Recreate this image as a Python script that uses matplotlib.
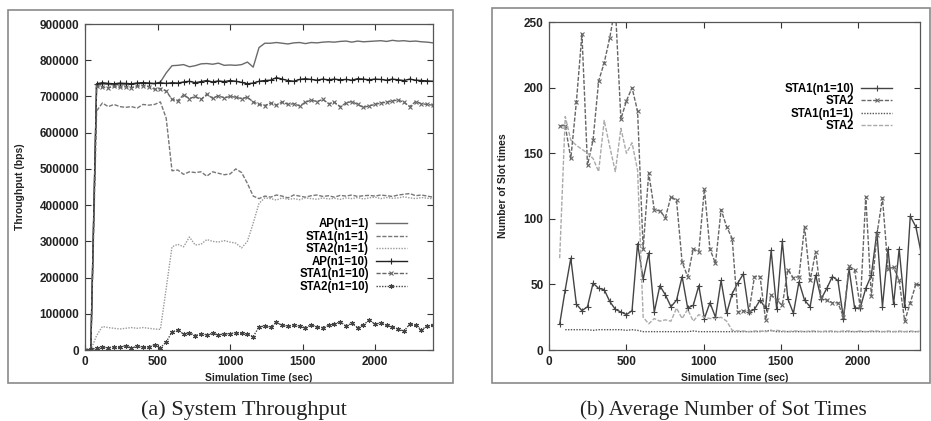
import numpy as np
import matplotlib
matplotlib.use('Agg')
import matplotlib.pyplot as plt
from matplotlib.patches import Rectangle

plt.rcParams['font.family'] = 'Liberation Sans'

# (a) throughput, sampled every 40 s
t_a = np.arange(0, 2401, 40)
ap_n1 = [0, 0, 730000, 735000, 733000, 733000, 732000, 733000, 735000, 736000, 737000, 736000, 735000,
         740000, 765000, 785000, 786000, 788000, 782000, 785000, 790000, 791000, 789000, 792000, 786000,
         787000, 786000, 788000, 795000, 781000, 835000, 847000,
         847000, 849000, 847000, 845000, 848000, 849000, 846000, 849000, 848000, 850000, 851000, 850000,
         852000, 853000, 850000, 853000, 851000, 852000, 853000, 854000, 852000, 855000, 853000, 854000,
         852000, 853000, 851000, 850000, 848000]
sta1_n1 = [0, 0, 660000, 682000, 672000, 678000, 672000, 670000, 672000, 668000, 678000, 676000, 678000,
           685000, 640000, 495000, 497000, 485000, 492000, 490000, 492000, 480000, 492000, 488000, 484000,
           486000, 500000, 490000, 460000, 425000, 418000,
           425000, 422000, 428000, 425000, 420000, 428000, 425000, 422000, 426000, 428000, 424000, 426000,
           422000, 427000, 425000, 428000, 424000, 426000, 427000, 425000, 428000, 426000, 424000, 428000,
           430000, 432000, 426000, 428000, 425000, 422000]
sta2_n1 = [0, 0, 40000, 65000, 62000, 60000, 58000, 60000, 62000, 60000, 62000, 60000, 58000,
           57000, 170000, 285000, 292000, 285000, 312000, 290000, 292000, 305000, 300000, 298000, 302000,
           298000, 295000, 282000, 300000, 350000, 405000, 420000,
           418000, 414000, 420000, 416000, 418000, 415000, 420000, 418000, 416000, 420000, 417000, 419000,
           416000, 420000, 418000, 421000, 417000, 420000, 422000, 418000, 421000, 419000, 420000, 423000,
           420000, 418000, 421000, 419000, 418000]
ap_n10 = [0, 0, 735000, 738000, 736000, 735000, 737000, 736000, 735000, 737000, 738000, 737000, 736000,
          738000, 736000, 738000, 737000, 740000, 742000, 738000, 741000, 744000, 740000, 743000, 741000,
          744000, 742000, 739000, 735000, 737000, 742000, 744000, 745000, 752000, 748000, 744000, 742000,
          747000, 749000, 747000, 745000, 748000, 746000, 748000, 746000, 747000, 745000, 749000, 748000,
          746000, 748000, 747000, 745000, 748000, 746000, 744000, 748000, 745000, 744000, 743000, 742000]
sta1_n10 = [0, 0, 728000, 726000, 724000, 728000, 725000, 727000, 724000, 728000, 730000, 727000, 720000,
            722000, 715000, 692000, 688000, 705000, 694000, 700000, 692000, 706000, 695000, 702000, 696000,
            700000, 698000, 694000, 698000, 685000, 678000, 675000, 682000, 676000, 685000, 678000, 680000,
            674000, 684000, 690000, 686000, 692000, 680000, 684000, 672000, 682000, 686000, 678000, 670000,
            674000, 678000, 682000, 684000, 688000, 690000, 684000, 672000, 686000, 680000, 678000, 676000]
sta2_n10 = [0, 2000, 5000, 8000, 6000, 9000, 7000, 12000, 6000, 10000, 7000, 8000, 15000,
            6000, 22000, 50000, 55000, 44000, 48000, 40000, 45000, 42000, 46000, 42000, 44000,
            45000, 48000, 46000, 44000, 37000, 64000, 66000, 63000, 76000, 68000, 65000, 70000,
            66000, 62000, 70000, 64000, 62000, 68000, 72000, 78000, 66000, 74000, 62000, 70000,
            82000, 72000, 74000, 68000, 64000, 58000, 52000, 72000, 68000, 56000, 66000, 68000]

# (b) slot times, sampled every 36 s
t_b = np.arange(69, 2410, 36)
slot_sta1_n10 = [19.7, 46, 70, 35, 30, 33, 51, 47, 46, 37, 31, 29, 27, 30, 81, 54, 74, 29, 49, 42,
                 33, 38, 56, 32, 34, 49, 24, 36, 25, 53, 28, 43, 51, 58, 29, 31, 38, 32, 76, 31,
                 83, 39, 28, 52, 38, 33, 57, 39, 47, 56, 53, 24, 62, 32, 32, 47, 57, 90, 33, 77,
                 35, 77, 33, 102, 94, 73]
slot_sta2_n10 = [171, 171, 146, 189, 241, 141, 160, 205, 219, 238, 262, 176, 190, 200, 182, 77, 135, 107,
                 106, 101, 117, 114, 67, 56, 77, 75, 123, 77, 66, 107, 94, 85, 29, 30, 29, 56, 56, 23,
                 42, 38, 34, 61, 55, 56, 94, 53, 75, 40, 38, 36, 36, 25, 64, 61, 33, 117, 41, 88, 116,
                 62, 63, 53, 22, 36, 50, 49]
slot_sta1_n1 = [15.5, 15.5, 15.5, 15.5, 15.5, 15, 15.5, 15.5, 15.5, 15.5, 15.5, 15, 15.5, 15,
                14, 14, 14, 14, 14, 14, 14, 14, 14, 14.5,
                14, 14, 14, 14, 14, 14, 14, 14, 14, 14,
                14, 14, 14.5, 15, 14, 14, 14, 14, 14, 14,
                14, 14, 14, 14, 14, 14, 14, 14, 14, 14,
                14, 14, 14, 14, 14, 14, 14, 14, 14, 14, 14]
slot_sta2_n1 = [70, 178, 160, 156, 153, 150, 146, 136, 175, 155, 136, 169, 150, 158, 137, 25, 20, 24,
                22, 23, 22, 32, 24, 31, 22, 27, 25, 24, 24, 25, 22, 15,
                14.5, 14.5, 14, 14.5, 14.5, 14, 14.5, 15, 14.5, 14, 14.5, 14.5, 14, 14.5, 14.5, 14,
                14.5, 14.5, 14, 14.5, 14.5, 14, 14.5, 14, 14.5, 14.5, 14, 14.5, 14, 14.5, 14, 14.5,
                14, 14.5]

fig = plt.figure(figsize=(9.31, 4.21), dpi=100)

# gray boxes round each panel
fig.patches.append(Rectangle((0.0086, 0.0903), 0.478, 0.886, transform=fig.transFigure,
                             fill=False, edgecolor='#8a8a8a', linewidth=1.2))
fig.patches.append(Rectangle((0.5285, 0.0903), 0.4705, 0.8907, transform=fig.transFigure,
                             fill=False, edgecolor='#8a8a8a', linewidth=1.2))

ax1 = fig.add_axes([0.0913, 0.1686, 0.3738, 0.7743])
ax2 = fig.add_axes([0.5897, 0.1686, 0.3985, 0.779])

ast = (6, 2, 0)
ax1.plot(t_a, ap_n1, color='#6a6a6a', lw=1.0, label='AP(n1=1)')
ax1.plot(t_a, sta1_n1, color='#777777', lw=1.0, dashes=(3, 1.2), label='STA1(n1=1)')
ax1.plot(t_a, sta2_n1, color='#9a9a9a', lw=1.0, dashes=(1, 1), label='STA2(n1=1)')
ax1.plot(t_a, ap_n10, color='#222222', lw=1.0, marker='+', ms=4, mew=0.8, label='AP(n1=10)')
ax1.plot(t_a, sta1_n10, color='#666666', lw=1.0, dashes=(3, 1.2), marker='x', ms=3.5, mew=0.8,
         label='STA1(n1=10)')
ax1.plot(t_a, sta2_n10, color='#444444', lw=1.0, dashes=(1, 1), marker=ast, ms=3.5, mew=0.8,
         label='STA2(n1=10)')

ax2.plot(t_b, slot_sta1_n10, color='#444444', lw=1.0, marker='+', ms=4, mew=0.8, label='STA1(n1=10)')
ax2.plot(t_b, slot_sta2_n10, color='#666666', lw=1.0, dashes=(3, 1.2), marker='x', ms=3.5, mew=0.8,
         label='STA2')
ax2.plot(t_b[1:], slot_sta1_n1, color='#555555', lw=1.0, dashes=(1, 1), label='STA1(n1=1)')
ax2.plot(t_b, slot_sta2_n1, color='#aaaaaa', lw=1.0, dashes=(3, 1.2), label='STA2')

ax1.set_xlim(0, 2400)
ax1.set_ylim(0, 900000)
ax1.set_yticks(np.arange(0, 900001, 100000))
ax2.set_xlim(0, 2400)
ax2.set_ylim(0, 250)
ax2.set_yticks([0, 50, 100, 150, 200, 250])

for ax in (ax1, ax2):
    ax.set_xticks([0, 500, 1000, 1500, 2000])
    ax.tick_params(direction='in', top=True, right=True, length=4, width=0.8,
                   labelsize=8.5, colors='#333333', labelcolor='#222222', pad=4)
    for lab in ax.get_xticklabels() + ax.get_yticklabels():
        lab.set_fontweight('bold')
    for sp in ax.spines.values():
        sp.set_color('#555555')
        sp.set_linewidth(0.9)
    ax.set_xlabel('Simulation Time (sec)', fontsize=7.5, fontweight='bold', color='#222222')
    ax.xaxis.set_label_coords(0.5, -0.07)

ax1.set_ylabel('Throughput (bps)', fontsize=7.5, fontweight='bold', color='#222222')
ax1.yaxis.set_label_coords(-0.172, 0.5)
ax2.set_ylabel('Number of Slot times', fontsize=7.5, fontweight='bold', color='#222222')
ax2.yaxis.set_label_coords(-0.11, 0.5)

leg_kw = dict(frameon=False, markerfirst=False, handlelength=2.7, handletextpad=0.6,
              labelspacing=0.05, borderpad=0, borderaxespad=0,
              prop={'size': 8.3, 'weight': 'bold'})
ax1.legend(loc='upper right', bbox_to_anchor=(0.925, 0.405), **leg_kw)
ax2.legend(loc='upper right', bbox_to_anchor=(0.925, 0.815), **leg_kw)

fig.text(244 / 931, 0.025, '(a) System Throughput', family='Liberation Serif', fontsize=16,
         ha='center', va='center', color='#222222')
fig.text(723 / 931, 0.025, '(b) Average Number of Sot Times', family='Liberation Serif', fontsize=15.2,
         ha='center', va='center', color='#222222')

fig.savefig('out.png', dpi=100)
